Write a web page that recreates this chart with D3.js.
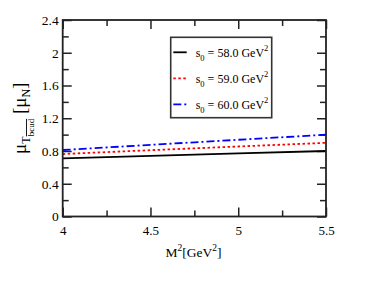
<!DOCTYPE html>
<html>
<head>
<meta charset="utf-8">
<script src="https://cdn.jsdelivr.net/npm/d3@7"></script>
<style>
  body { margin: 0; background: #fff; }
  svg text { font-family: 'Liberation Serif', 'Times New Roman', serif; }
</style>
</head>
<body>
<svg id="chart"></svg>
<script>
// data
const m2 = [4, 4.5, 5, 5.5];
const s58 = [0.711, 0.74, 0.77, 0.80];
const s59 = [0.763, 0.81, 0.855, 0.90];
const s60 = [0.812, 0.875, 0.937, 0.999];
const seriesNames = ["58.0", "59.0", "60.0"];
const xTicks = [4, 4.5, 5, 5.5];
const xMinor = [4.25, 4.75, 5.25];
const yTicks = [0, 0.4, 0.8, 1.2, 1.6, 2, 2.4];
const yMinor = [0.2, 0.6, 1.0, 1.4, 1.8, 2.2];

const W = 390, H = 302;
const margin = { top: 20, right: 64, bottom: 85.5, left: 62.7 };
const width = W - margin.left - margin.right;
const height = H - margin.top - margin.bottom;

const svg = d3.select("#chart").attr("width", W).attr("height", H);
const g = svg.append("g")
  .attr("transform", "translate(" + margin.left + "," + margin.top + ")");

const x = d3.scaleLinear().domain([4, 5.5]).range([0, width]);
const y = d3.scaleLinear().domain([0, 2.4]).range([height, 0]);

// axes with inward ticks
function styleAxis(sel, labels) {
  sel.attr("font-family", null);
  sel.select(".domain").remove();
  sel.selectAll(".tick line").attr("stroke", "#222").attr("stroke-width", 1.5);
  if (!labels) sel.selectAll(".tick text").remove();
  else sel.selectAll(".tick text").attr("fill", "#000").style("font-size", "13.5px");
}

const fmt = d => String(d);

g.append("g").attr("transform", "translate(0," + height + ")")
  .call(d3.axisBottom(x).tickValues(xTicks).tickSize(-9).tickFormat(fmt))
  .call(s => styleAxis(s, true))
  .call(s => s.selectAll(".tick text").attr("y", 18.5).attr("dy", 0).style("font-size", "13px"));
g.append("g").attr("transform", "translate(0," + height + ")")
  .call(d3.axisBottom(x).tickValues(xMinor).tickSize(-6))
  .call(s => styleAxis(s, false));
g.append("g")
  .call(d3.axisTop(x).tickValues(xTicks).tickSize(-9))
  .call(s => styleAxis(s, false));
g.append("g")
  .call(d3.axisTop(x).tickValues(xMinor).tickSize(-6))
  .call(s => styleAxis(s, false));

g.append("g")
  .call(d3.axisLeft(y).tickValues(yTicks).tickSize(-9).tickPadding(4).tickFormat(fmt))
  .call(s => styleAxis(s, true));
g.append("g")
  .call(d3.axisLeft(y).tickValues(yMinor).tickSize(-6))
  .call(s => styleAxis(s, false));
g.append("g").attr("transform", "translate(" + width + ",0)")
  .call(d3.axisRight(y).tickValues(yTicks).tickSize(-9))
  .call(s => styleAxis(s, false));
g.append("g").attr("transform", "translate(" + width + ",0)")
  .call(d3.axisRight(y).tickValues(yMinor).tickSize(-6))
  .call(s => styleAxis(s, false));

// series lines
const series = [
  { vals: s58, color: "#000", dash: null },
  { vals: s59, color: "#ff0000", dash: "2.5,2.5" },
  { vals: s60, color: "#0000ff", dash: "8,3,2,3" }
];
const line = d3.line().x((d, i) => x(m2[i])).y(d => y(d));
series.forEach(s => {
  g.append("path").datum(s.vals)
    .attr("d", line)
    .attr("fill", "none")
    .attr("stroke", s.color)
    .attr("stroke-width", 1.8)
    .attr("stroke-dasharray", s.dash);
});

// frame
g.append("rect").attr("width", width).attr("height", height)
  .attr("fill", "none").attr("stroke", "#222").attr("stroke-width", 1.8);

// legend
const leg = svg.append("g").attr("transform", "translate(170.7,37.3)");
leg.append("rect").attr("width", 101).attr("height", 80.4)
  .attr("fill", "#fff").attr("stroke", "#333").attr("stroke-width", 1.6);
series.forEach((s, i) => {
  const yy = 15 + i * 26;
  leg.append("line").attr("x1", 2.6).attr("x2", 16).attr("y1", yy).attr("y2", yy)
    .attr("stroke", s.color).attr("stroke-width", 1.8)
    .attr("stroke-dasharray", s.dash);
  const t = leg.append("text").attr("x", 25).attr("y", yy + 5)
    .style("font-size", "12px").attr("fill", "#000");
  t.append("tspan").text("s");
  t.append("tspan").attr("dy", 4).style("font-size", "8.5px").text("0");
  t.append("tspan").attr("dy", -4).text(" = " + seriesNames[i] + " GeV");
  t.append("tspan").attr("dy", -6).style("font-size", "8.5px").text("2");
});

// x axis title
const xt = svg.append("text")
  .attr("x", 193.5)
  .attr("y", 257.3)
  .attr("text-anchor", "middle")
  .style("font-size", "13.5px");
xt.append("tspan").text("M");
xt.append("tspan").attr("dy", -6).style("font-size", "9.5px").text("2");
xt.append("tspan").attr("dy", 6).text("[GeV");
xt.append("tspan").attr("dy", -6).style("font-size", "9.5px").text("2");
xt.append("tspan").attr("dy", 6).text("]");

// y axis title
const yt = svg.append("text")
  .attr("transform", "translate(26," + (margin.top + height / 2) + ") rotate(-90)")
  .attr("text-anchor", "middle")
  .style("font-size", "19px");
yt.append("tspan").text("μ");
yt.append("tspan").attr("dy", 4).style("font-size", "12px").text("T");
yt.append("tspan").attr("dy", 4).style("font-size", "9px")
  .style("text-decoration", "overline").text("bcud");
yt.append("tspan").attr("dy", -8).text(" [μ");
yt.append("tspan").attr("dy", 4).style("font-size", "12px").text("N");
yt.append("tspan").attr("dy", -4).text("]");
</script>
</body>
</html>
